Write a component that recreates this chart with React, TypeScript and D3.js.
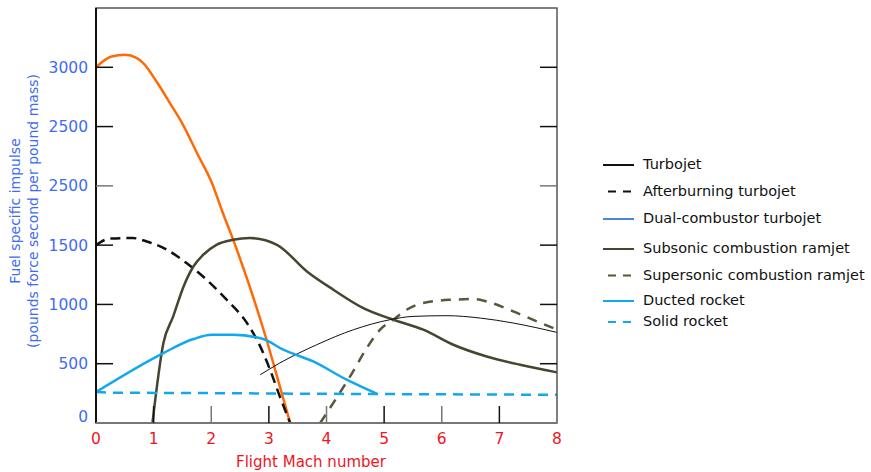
import React from "react";
import * as d3 from "d3";

// Fuel specific impulse vs flight Mach number
type Pt = [number, number];

const turbojet: Pt[] = [
  [2.85, 407], [3.19, 506], [3.83, 660], [4.47, 787], [5.1, 871],
  [5.5, 899], [6.09, 905], [6.67, 885], [7.24, 843], [8.0, 764],
];
const afterburning: Pt[] = [
  [0, 1500], [0.24, 1555], [0.64, 1560], [0.88, 1531], [1.23, 1461],
  [1.57, 1349], [1.92, 1208], [2.27, 1039], [2.62, 843], [2.85, 646],
  [3.02, 449], [3.19, 224], [3.37, 0],
];
const orangeJet: Pt[] = [
  [0, 3000], [0.27, 3091], [0.5, 3105], [0.71, 3077], [0.82, 3035],
  [1.05, 2880], [1.28, 2700], [1.51, 2515], [1.75, 2279], [2.01, 2026],
  [2.2, 1773], [2.38, 1546], [2.96, 702], [3.19, 309], [3.37, 0],
];
const subsonicRamjet: Pt[] = [
  [0.98, 0], [1.17, 674], [1.34, 899], [1.52, 1152], [1.69, 1320],
  [1.86, 1419], [2.09, 1503], [2.38, 1545], [2.67, 1560], [3.14, 1503],
  [3.66, 1278], [4.12, 1124], [4.64, 969], [5.16, 871],
  [5.68, 787], [6.2, 660], [6.78, 561], [7.36, 491], [8.0, 427],
];
const supersonicRamjet: Pt[] = [
  [3.89, 0], [4.21, 239], [4.41, 393], [4.7, 632], [4.93, 787],
  [5.16, 871], [5.39, 955], [5.68, 1012], [6.15, 1039], [6.55, 1045],
  [6.78, 1025], [7.24, 941], [7.65, 857], [8.0, 787],
];
const ductedRocket: Pt[] = [
  [0, 261], [1.17, 590], [1.69, 708], [2.01, 744], [2.38, 744],
  [2.9, 708], [3.25, 618], [3.77, 519], [4.35, 365], [4.87, 247],
];
const solidRocket: Pt[] = [
  [0, 262], [0.3, 256], [2, 252], [4, 246], [6, 242], [8, 238],
];

const xTicks = [0, 1, 2, 3, 4, 5, 6, 7, 8];
const yTicks = [0, 500, 1000, 1500, 2000, 2500, 3000];
const yTickLabels = ["0", "500", "1000", "1500", "2500", "2500", "3000"];

const legendLabels = [
  "Turbojet",
  "Afterburning turbojet",
  "Dual-combustor turbojet",
  "Subsonic combustion ramjet",
  "Supersonic combustion ramjet",
  "Ducted rocket",
  "Solid rocket",
];

const FONT = "'DejaVu Sans', Verdana, sans-serif";
const BLUE = "#3f6cf2";
const RED = "#f0141e";

const W = 871;
const H = 472;
const left = 96;
const right = 557;
const top = 8;
const bottom = 423;

export default function App() {
  const x = d3.scaleLinear().domain([0, 8]).range([left, right]);
  const y = d3.scaleLinear().domain([0, 3500]).range([bottom, top]);
  const line = d3
    .line<Pt>()
    .x((d) => x(d[0]))
    .y((d) => y(d[1]))
    .curve(d3.curveMonotoneX);

  const series = [
    { data: orangeJet, color: "#ff6a08", width: 2.5, dash: undefined },
    { data: afterburning, color: "#111", width: 2.5, dash: "10,6" },
    { data: subsonicRamjet, color: "#47442f", width: 2.5, dash: undefined },
    { data: supersonicRamjet, color: "#5a563c", width: 2.5, dash: "10,8" },
    { data: turbojet, color: "#111", width: 1, dash: undefined },
    { data: ductedRocket, color: "#12a9ec", width: 2.5, dash: undefined },
    { data: solidRocket, color: "#12a9ec", width: 2.5, dash: "10,7" },
  ];

  const legendStyles = [
    { color: "#111", dash: undefined, y: 165 },
    { color: "#111", dash: "10,7", y: 191.5 },
    { color: "#4a86d8", dash: undefined, y: 219 },
    { color: "#47442f", dash: undefined, y: 249 },
    { color: "#5a563c", dash: "10,7", y: 275.5 },
    { color: "#12a9ec", dash: undefined, y: 301 },
    { color: "#12a9ec", dash: "10,7", y: 322 },
  ];

  return (
    <svg
      width={W}
      height={H}
      style={{ position: "absolute", left: 0, top: 0, background: "#fff" }}
    >
      {/* curves */}
      {series.map((s, i) => (
        <path
          key={i}
          d={line(s.data) || ""}
          fill="none"
          stroke={s.color}
          strokeWidth={s.width}
          strokeDasharray={s.dash}
        />
      ))}

      {/* frame */}
      <rect
        x={left}
        y={top}
        width={right - left}
        height={bottom - top}
        fill="none"
        stroke="#555"
        strokeWidth={1.5}
      />
      <line x1={left} x2={left} y1={top} y2={bottom} stroke="#111" strokeWidth={2} />
      <line x1={left} x2={right} y1={bottom} y2={bottom} stroke="#777" strokeWidth={2} />

      {/* y ticks */}
      {yTicks.map((t, i) => (
        <g key={t}>
          {t > 0 && (
            <>
              <line x1={left} x2={left + 17} y1={y(t)} y2={y(t)} stroke={t === 2000 ? "#777" : "#111"} strokeWidth={1.5} />
              <line x1={right - 17} x2={right} y1={y(t)} y2={y(t)} stroke={t === 2000 ? "#777" : "#111"} strokeWidth={1.5} />
            </>
          )}
          <text
            x={88}
            y={y(t) + (t === 0 ? -6 : 1)}
            textAnchor="end"
            dominantBaseline="middle"
            fontFamily={FONT}
            fontSize={15.5}
            fill={BLUE}
          >
            {yTickLabels[i]}
          </text>
        </g>
      ))}

      {/* x ticks */}
      {xTicks.map((t) => (
        <g key={t}>
          {t > 0 && t < 8 && (
            <line x1={x(t)} x2={x(t)} y1={bottom} y2={bottom - 17} stroke={t % 2 ? "#111" : "#777"} strokeWidth={1.5} />
          )}
          <text
            x={x(t)}
            y={444}
            textAnchor="middle"
            fontFamily={FONT}
            fontSize={15.5}
            fill={RED}
          >
            {t}
          </text>
        </g>
      ))}

      <text x={311} y={467} textAnchor="middle" fontFamily={FONT} fontSize={15} fill={RED}>
        Flight Mach number
      </text>

      <g transform="translate(0,211) rotate(-90)" fontFamily={FONT} fontSize={14} fill={BLUE} textAnchor="middle">
        <text x={0} y={20}>Fuel specific impulse</text>
        <text x={0} y={38}>(pounds force second per pound mass)</text>
      </g>

      {/* legend */}
      {legendLabels.map((label, i) => {
        const st = legendStyles[i];
        const dashed = !!st.dash;
        return (
          <g key={label}>
            <line
              x1={dashed ? 608 : 603}
              x2={634}
              y1={st.y}
              y2={st.y}
              stroke={st.color}
              strokeWidth={2}
              strokeDasharray={dashed ? "8,7" : undefined}
            />
            <text
              x={643}
              y={st.y}
              dominantBaseline="middle"
              fontFamily={FONT}
              fontSize={14.5}
              fill="#111"
            >
              {label}
            </text>
          </g>
        );
      })}
    </svg>
  );
}
